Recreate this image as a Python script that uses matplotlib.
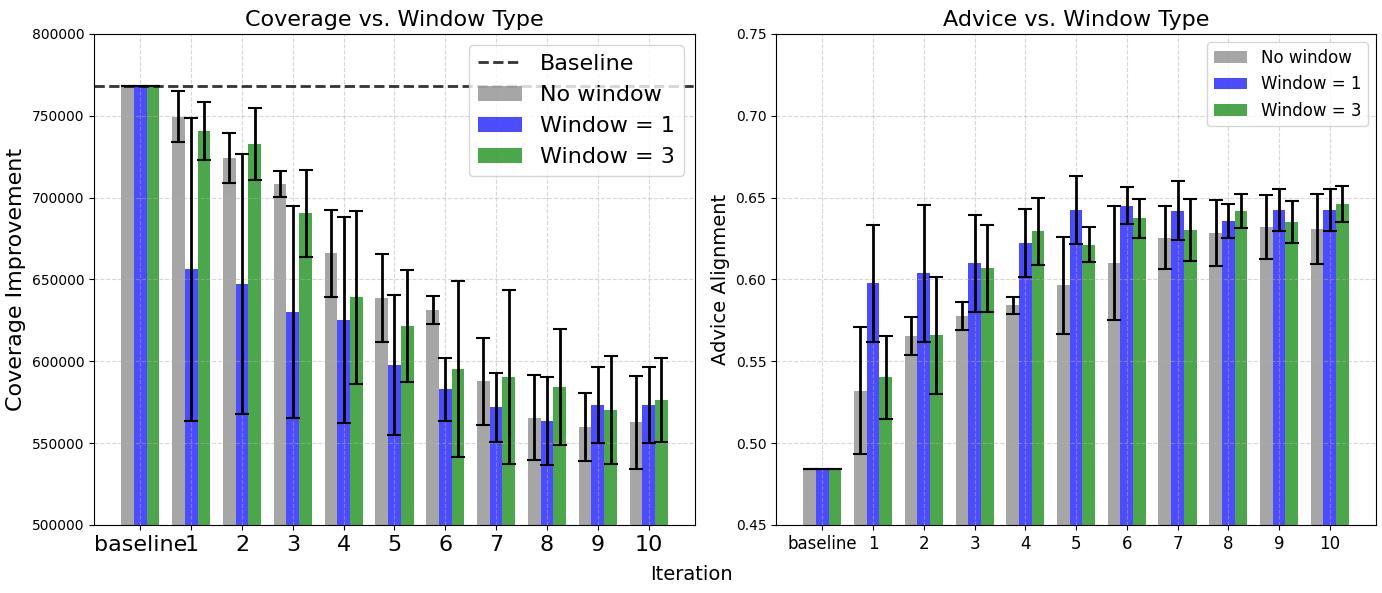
import numpy as np
import matplotlib
matplotlib.use('Agg')
import matplotlib.pyplot as plt

iterations = ['baseline', '1', '2', '3', '4', '5', '6', '7', '8', '9', '10']
baseline_cov = 768000

# Coverage (mean, error)
cov_none = [768000, 749500, 724200, 708300, 666000, 638500, 631400, 587800, 565400, 559900, 562900]
cov_none_err = [0, 15800, 15000, 8200, 26500, 26900, 8600, 26600, 26000, 20800, 28400]
cov_w1 = [768000, 656200, 647300, 630100, 625300, 597800, 582900, 571900, 563500, 573100, 573100]
cov_w1_err = [0, 92700, 79600, 65000, 63000, 43000, 19300, 21100, 26900, 23200, 23200]
cov_w3 = [768000, 740700, 732800, 690400, 639000, 621600, 595100, 590200, 584100, 570300, 576400]
cov_w3_err = [0, 17900, 21900, 26500, 52700, 34000, 53700, 53100, 35400, 33000, 25500]

# Advice alignment (mean, error)
adv_none = [0.484, 0.532, 0.5655, 0.5777, 0.5842, 0.5965, 0.6101, 0.6254, 0.6284, 0.6321, 0.6309]
adv_none_err = [0, 0.0388, 0.0116, 0.0083, 0.0050, 0.0296, 0.0350, 0.0192, 0.0203, 0.0197, 0.0213]
adv_w1 = [0.484, 0.5977, 0.6038, 0.6099, 0.6221, 0.6425, 0.6449, 0.6419, 0.6357, 0.6425, 0.6425]
adv_w1_err = [0, 0.0358, 0.0420, 0.0295, 0.0207, 0.0210, 0.0113, 0.0180, 0.0104, 0.0129, 0.0129]
adv_w3 = [0.484, 0.5402, 0.5659, 0.6069, 0.6294, 0.6211, 0.6374, 0.6302, 0.6419, 0.6351, 0.6461]
adv_w3_err = [0, 0.0252, 0.0356, 0.0265, 0.0205, 0.0107, 0.0119, 0.0190, 0.0102, 0.0130, 0.0111]

x = np.arange(len(iterations))
w = 0.25
err_kw = dict(capsize=5, ecolor='black', error_kw=dict(elinewidth=2, capthick=1.5))

fig = plt.figure(figsize=(13.82, 5.93), dpi=100)
ax1 = fig.add_axes([0.068, 0.1147, 0.4349, 0.828])
ax2 = fig.add_axes([0.5615, 0.1147, 0.4342, 0.828])

# left: coverage
ax1.axhline(baseline_cov, color='black', linestyle='--', linewidth=2, alpha=0.8, label='Baseline')
ax1.bar(x - w, cov_none, w, yerr=cov_none_err, color='gray', alpha=0.7, label='No window', **err_kw)
ax1.bar(x, cov_w1, w, yerr=cov_w1_err, color='blue', alpha=0.7, label='Window = 1', **err_kw)
ax1.bar(x + w, cov_w3, w, yerr=cov_w3_err, color='green', alpha=0.7, label='Window = 3', **err_kw)
ax1.set_ylim(500000, 800000)
ax1.ticklabel_format(axis='y', style='plain')
ax1.set_xticks(x)
ax1.set_xticklabels(iterations, fontsize=16)
ax1.set_ylabel('Coverage Improvement', fontsize=16)
ax1.set_title('Coverage vs. Window Type', fontsize=16)
ax1.legend(fontsize=16, loc='upper right')
ax1.grid(True, linestyle='--', alpha=0.5)

# right: advice alignment
ax2.bar(x - w, adv_none, w, yerr=adv_none_err, color='gray', alpha=0.7, label='No window', **err_kw)
ax2.bar(x, adv_w1, w, yerr=adv_w1_err, color='blue', alpha=0.7, label='Window = 1', **err_kw)
ax2.bar(x + w, adv_w3, w, yerr=adv_w3_err, color='green', alpha=0.7, label='Window = 3', **err_kw)
ax2.set_ylim(0.45, 0.75)
ax2.set_xticks(x)
ax2.set_xticklabels(iterations, fontsize=12)
ax2.set_ylabel('Advice Alignment', fontsize=14)
ax2.set_title('Advice vs. Window Type', fontsize=16)
ax2.legend(fontsize=12, loc='upper right')
ax2.grid(True, linestyle='--', alpha=0.5)

fig.text(0.5, 0.015, 'Iteration', ha='center', va='bottom', fontsize=14)

fig.savefig('out.png', dpi=100)
